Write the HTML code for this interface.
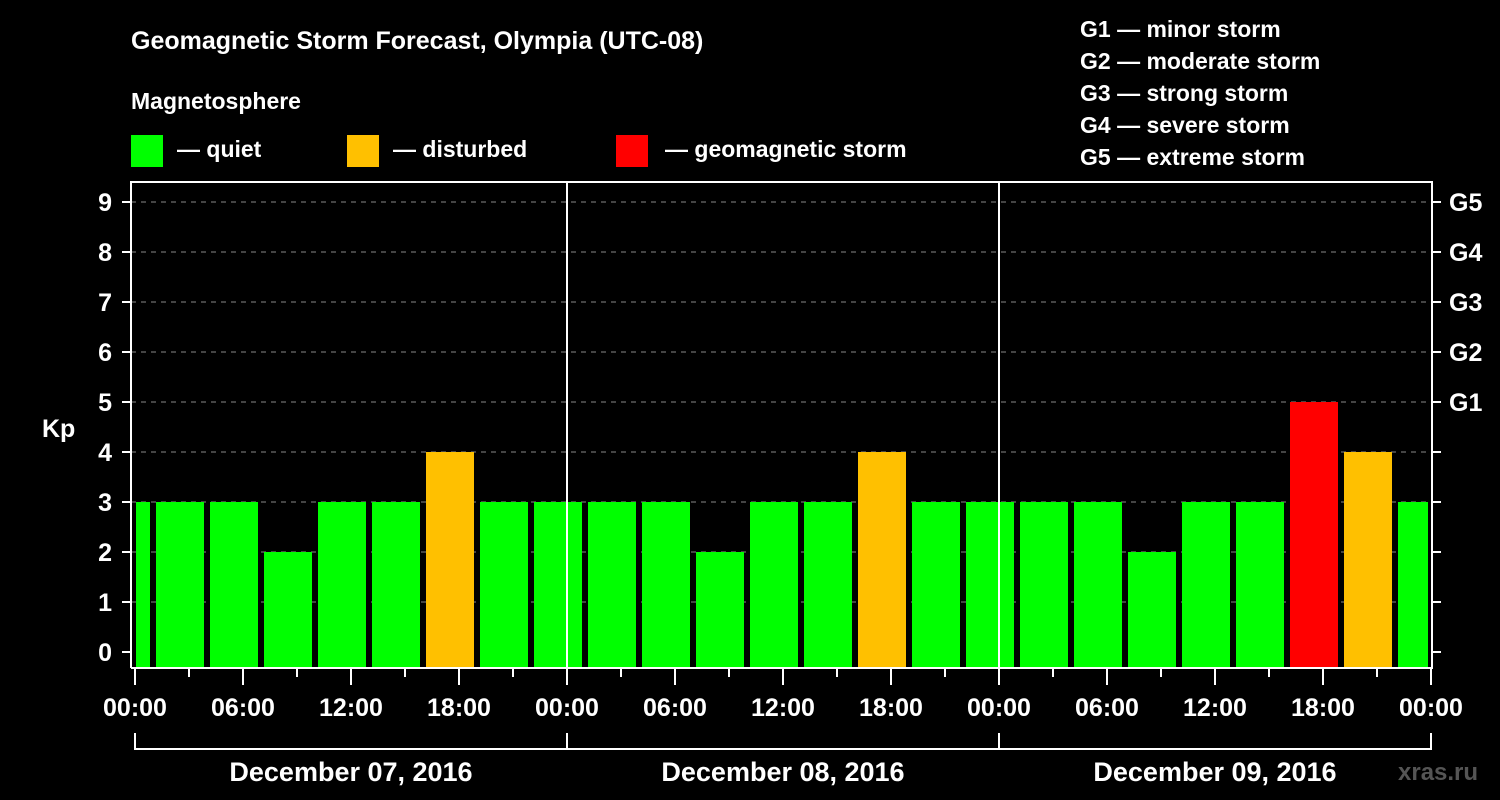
<!DOCTYPE html>
<html><head><meta charset="utf-8"><style>
html,body{margin:0;padding:0;background:#000;}
svg{display:block;font-family:"Liberation Sans",Arial,sans-serif;font-weight:bold;}
</style></head><body>
<svg id="c" width="1500" height="800" viewBox="0 0 1500 800" xmlns="http://www.w3.org/2000/svg">
<rect width="1500" height="800" fill="#000"/>
<text x="131" y="49" fill="#fff" font-size="25">Geomagnetic Storm Forecast, Olympia (UTC-08)</text>
<text x="131" y="109" fill="#fff" font-size="23">Magnetosphere</text>
<g><rect x="131" y="135" width="32" height="32" fill="#00ff00"/><text x="177" y="157" fill="#fff" font-size="23">— quiet</text></g>
<g><rect x="347" y="135" width="32" height="32" fill="#ffc000"/><text x="393" y="157" fill="#fff" font-size="23">— disturbed</text></g>
<g><rect x="616" y="135" width="32" height="32" fill="#ff0000"/><text x="665" y="157" fill="#fff" font-size="23">— geomagnetic storm</text></g>
<g fill="#fff" font-size="23">
<text x="1080" y="37">G1 — minor storm</text>
<text x="1080" y="69">G2 — moderate storm</text>
<text x="1080" y="101">G3 — strong storm</text>
<text x="1080" y="133">G4 — severe storm</text>
<text x="1080" y="165">G5 — extreme storm</text>
</g>
<text x="42" y="437" fill="#fff" font-size="25">Kp</text>
<text x="1398" y="780" fill="#555" font-size="24">xras.ru</text>
<g id="grid"></g><g id="bars"></g><g id="axes"></g>
</svg>
<script>
const kpValues=[3,3,3,2,3,3,4,3,3,3,3,2,3,3,4,3,3,3,3,2,3,3,5,4,3];
const slotStartHours=[-2,1,4,7,10,13,16,19,22,25,28,31,34,37,40,43,46,49,52,55,58,61,64,67,70];
const yTicks=[0,1,2,3,4,5,6,7,8,9];
const gLabels=["G1","G2","G3","G4","G5"];
const xTickLabels=["00:00","06:00","12:00","18:00","00:00","06:00","12:00","18:00","00:00","06:00","12:00","18:00","00:00"];
const dayLabels=["December 07, 2016","December 08, 2016","December 09, 2016"];
const NS="http://www.w3.org/2000/svg";
const X0=135,PXH=18,HMAX=72;
const xs=h=>X0+h*PXH;
const ys=v=>652-v*50;
function mk(tag,attrs,parent,txt){const e=document.createElementNS(NS,tag);for(const k in attrs)e.setAttribute(k,attrs[k]);if(txt!==undefined)e.textContent=txt;parent.appendChild(e);return e;}
const grid=document.getElementById('grid'),bars=document.getElementById('bars'),axes=document.getElementById('axes');
yTicks.forEach(v=>{if(v>0){const l=mk('line',{x1:131,x2:1432,y1:ys(v),y2:ys(v),stroke:'#888','stroke-width':1,'stroke-dasharray':'5,5'},grid);

}
const t=mk('line',{x1:122,x2:131,y1:ys(v),y2:ys(v),stroke:'#fff','stroke-width':2},axes);


const rt=mk('line',{x1:1432,x2:1441,y1:ys(v),y2:ys(v),stroke:'#fff','stroke-width':2},axes);


const lb=mk('text',{x:112,y:ys(v)+9,fill:'#fff','font-size':25,'text-anchor':'end'},axes,String(v));


if(v>=5){const g=mk('text',{x:1449,y:ys(v)+9,fill:'#fff','font-size':25},axes,gLabels[v-5]);

}
});
kpValues.forEach((v,i)=>{let a=xs(slotStartHours[i])+3,b=xs(slotStartHours[i]+3)-3;a=Math.max(a,136);b=Math.min(b,1428);
const col=v>=5?'#ff0000':(v>=4?'#ffc000':'#00ff00');
const r=mk('rect',{x:a,y:ys(v),width:b-a,height:668-ys(v),fill:col},bars);

});
// frame
const f=mk('path',{d:'M131,668 V182 H1432 V668 H131',fill:'none',stroke:'#fff','stroke-width':2},axes);


[24,48].forEach(h=>{const d=mk('line',{x1:xs(h),x2:xs(h),y1:182,y2:668,stroke:'#fff','stroke-width':2},axes);

});
for(let h=0;h<=HMAX;h+=3){const maj=h%6===0;const t=mk('line',{x1:xs(h),x2:xs(h),y1:669,y2:maj?685:677,stroke:'#fff','stroke-width':2},axes);

}
xTickLabels.forEach((s,i)=>{const t=mk('text',{x:xs(i*6),y:716,fill:'#fff','font-size':25,'text-anchor':'middle'},axes,s);

});
const br=mk('path',{d:`M${xs(0)},733 V749 H${xs(72)} V733 M${xs(24)},733 V749 M${xs(48)},733 V749`,fill:'none',stroke:'#fff','stroke-width':2},axes);


dayLabels.forEach((s,i)=>{const t=mk('text',{x:xs(i*24+12),y:781,fill:'#fff','font-size':27,'text-anchor':'middle'},axes,s);

});
</script>
</body></html>
